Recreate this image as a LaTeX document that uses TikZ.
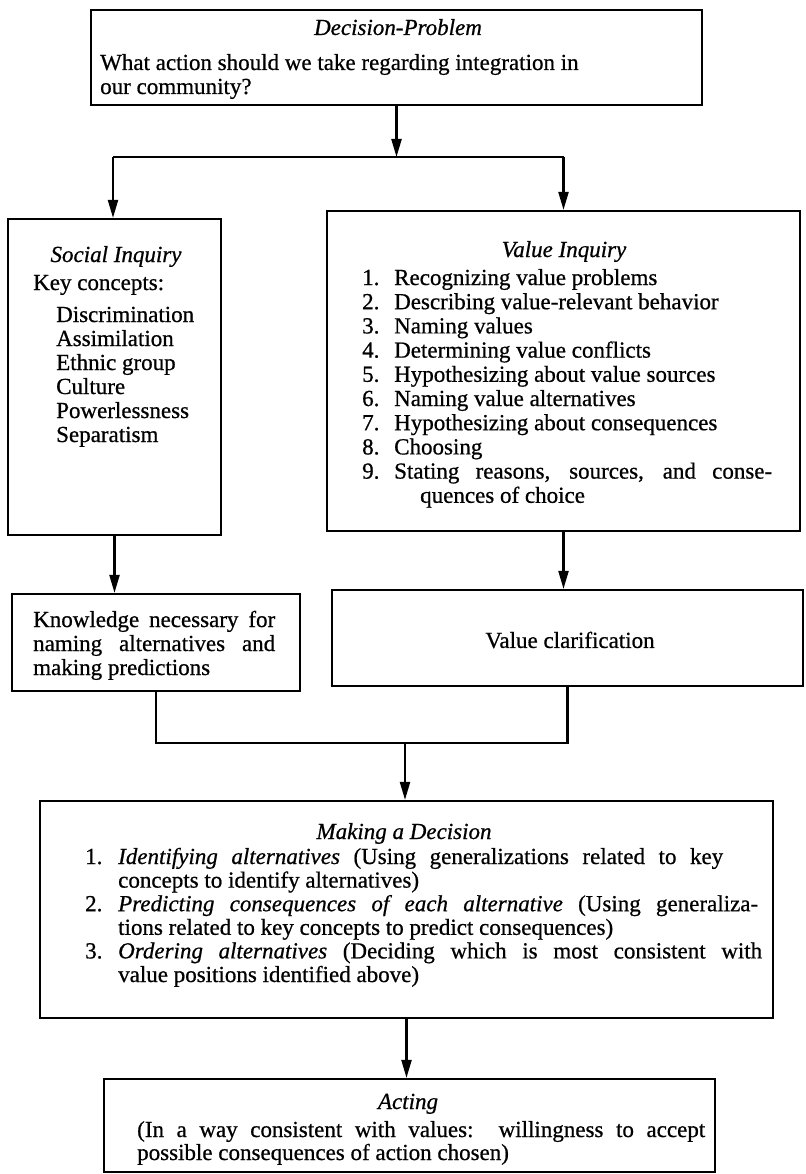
\documentclass[tikz,border=0pt]{standalone}
\usepackage{fontspec}
\setmainfont{Liberation Serif}[FakeBold=0.7]
\usetikzlibrary{arrows.meta}
\newcommand\bodyfs{\fontsize{23}{24.2}\selectfont}
\tikzset{
  box/.style={draw, line width=2.2pt, inner sep=0pt},
  txt/.style={inner sep=0pt, font=\bodyfs, anchor=base west},
  ttl/.style={inner sep=0pt, font=\bodyfs\itshape, anchor=base},
  link/.style={line width=2.2pt},
  arr/.style={line width=2.2pt, -{Triangle[length=18pt,width=10pt]}},
}
\begin{document}
\begin{tikzpicture}[x=1pt,y=-1pt]
\useasboundingbox (0,0) rectangle (805,1174);
% boxes
\node[box, minimum width=611pt, minimum height=95pt]  (top)    at (396.5,57.5) {};
\node[box, minimum width=213pt, minimum height=316pt] (social) at (114.5,377) {};
\node[box, minimum width=473pt, minimum height=320pt] (value)  at (563.5,371) {};
\node[box, minimum width=288pt, minimum height=97pt]  (know)   at (156,642.5) {};
\node[box, minimum width=471pt, minimum height=96pt]  (clar)   at (567.5,638) {};
\node[box, minimum width=733pt, minimum height=217pt] (dec)    at (406.5,909.5) {};
\node[box, minimum width=611pt, minimum height=93pt]  (act)    at (409.5,1125.5) {};
% top box text
\node[ttl] (topT) at (398,35) {Decision-Problem};
\node[txt] (topB1) at (100,70) {What action should we take regarding integration in};
\node[txt] (topB2) at (100,94) {our community?};
% social inquiry
\node[ttl] (socT) at (116,262) {Social Inquiry};
\node[txt] (socK) at (33,290) {Key concepts:};
\foreach \w [count=\i] in {Discrimination,Assimilation,Ethnic group,Culture,Powerlessness,Separatism}
  \node[txt] (socC\i) at (56,{322+24*(\i-1)}) {\w};
% value inquiry
\node[ttl] (valT) at (564,257) {Value Inquiry};
\foreach \w [count=\i] in {Recognizing value problems,Describing value-relevant behavior,Naming values,Determining value conflicts,Hypothesizing about value sources,Naming value alternatives,Hypothesizing about consequences,Choosing}
{
  \node[txt] (valN\i) at (362,{285+24.2*(\i-1)}) {\i.};
  \node[txt] (valI\i) at (394,{285+24.2*(\i-1)}) {\w};
}
\node[txt] (valN9) at (362,478.6) {9.};
\node[txt] (valI9) at (394,478.6) {\makebox[378pt][s]{Stating reasons, sources, and conse-}};
\node[txt] (valI9b) at (420,502.8) {quences of choice};
% knowledge
\node[txt] (kn1) at (33,627) {\makebox[242pt][s]{Knowledge necessary for}};
\node[txt] (kn2) at (33,651) {\makebox[242pt][s]{naming alternatives and}};
\node[txt] (kn3) at (33,675) {making predictions};
% value clarification
\node[inner sep=0pt, font=\bodyfs] (clarT) at (570,640) {Value clarification};
% making a decision
\node[ttl] (decT) at (404,839) {Making a Decision};
\node[txt] (decN1) at (85,864) {1.};
\node[txt] (decI1) at (118,864) {\makebox[605pt][s]{\textit{Identifying alternatives} (Using generalizations related to key}};
\node[txt] (decI1b) at (118,887.6) {concepts to identify alternatives)};
\node[txt] (decN2) at (85,911.2) {2.};
\node[txt] (decI2) at (118,911.2) {\makebox[640pt][s]{\textit{Predicting consequences of each alternative} (Using generaliza-}};
\node[txt] (decI2b) at (118,934.8) {tions related to key concepts to predict consequences)};
\node[txt] (decN3) at (85,958.4) {3.};
\node[txt] (decI3) at (118,958.4) {\makebox[644pt][s]{\textit{Ordering alternatives} (Deciding which is most consistent with}};
\node[txt] (decI3b) at (118,982) {value positions identified above)};
% acting
\node[ttl] (actT) at (408,1109) {Acting};
\node[txt] (act1) at (137,1137) {\makebox[568pt][s]{(In a way consistent with values:\ \ willingness to accept}};
\node[txt] (act2) at (137,1160) {possible consequences of action chosen)};
% connectors
\coordinate (sp)  at (396.5,157);
\coordinate (spL) at (113,157);
\coordinate (spR) at (563.5,157);
\coordinate (jn)  at (405,743);
\draw[arr] (top.south) -- (sp);
\draw[link] (spL) -- (spR);
\draw[arr] (spL) -- (spL |- social.north);
\draw[arr] (spR) -- (value.north);
\draw[arr] (social.south) -- (social.south |- know.north);
\draw[arr] (value.south) -- (value.south |- clar.north);
\draw[link] (know.south) |- (jn) -| (clar.south);
\draw[arr] (jn) -- (jn |- dec.north);
\draw[arr] (dec.south) -- (dec.south |- act.north);
\end{tikzpicture}
\end{document}
